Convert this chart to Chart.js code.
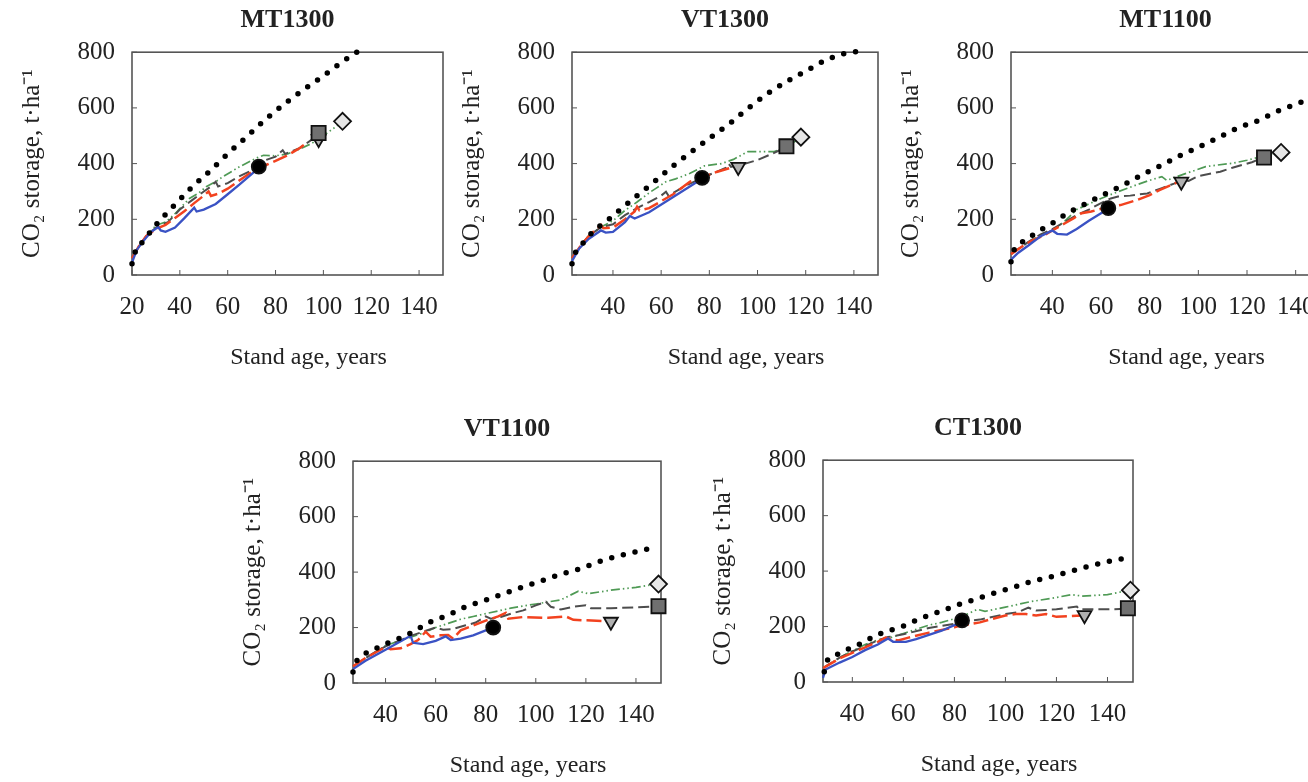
<!DOCTYPE html>
<html>
<head>
<meta charset="utf-8">
<script src="https://cdn.jsdelivr.net/npm/chart.js@4.4.1/dist/chart.umd.min.js"></script>
<style>
  body { margin: 0; width: 1308px; height: 782px; overflow: hidden; background: #fff; position: relative; }
  canvas { position: absolute; }
</style>
</head>
<body>
<canvas id="mt1300" width="446" height="370" style="left:17px;top:5px"></canvas>
<canvas id="vt1300" width="441" height="370" style="left:457px;top:5px"></canvas>
<canvas id="mt1100" width="444" height="370" style="left:896px;top:5px"></canvas>
<canvas id="vt1100" width="443" height="369" style="left:238px;top:414px"></canvas>
<canvas id="ct1300" width="445" height="369" style="left:708px;top:413px"></canvas>
<script>
const xTicks = [20, 40, 60, 80, 100, 120, 140];
const yTicks = [0, 200, 400, 600, 800];
const xTitle = 'Stand age, years';
const yTitle = 'CO₂ storage, t·ha⁻¹';

// MT1300
const mt1300Dotted = [[20,40],[21,75],[25,125],[30,180],[37,244],[45,315],[53,377],[60,435],[68,497],[76,560],[84,616],[92,667],[100,715],[108,766],[114,800]];
const mt1300Blue = [[20,45],[22,90],[25,125],[28,155],[31,172],[32,160],[34,155],[38,170],[42,205],[46,242],[47,228],[50,235],[55,255],[60,290],[65,325],[70,362],[73,385]];
const mt1300Red = [[20,60],[23,105],[26,140],[30,165],[34,180],[38,205],[42,230],[46,258],[50,285],[52,300],[53,284],[56,292],[60,310],[65,340],[70,370],[73,387],[76,395],[80,410],[85,430],[90,455],[93,475]];
const mt1300Gray = [[20,60],[23,105],[26,140],[30,170],[35,190],[40,235],[45,268],[50,300],[53,318],[55,335],[56,318],[60,330],[65,355],[70,375],[75,410],[80,425],[83,448],[84,435],[90,455],[95,485],[98,505]];
const mt1300Green = [[20,60],[23,105],[26,140],[30,178],[34,190],[38,220],[44,275],[48,295],[51,317],[55,335],[58,353],[65,389],[72,420],[75,430],[80,428],[85,435],[90,452],[95,472],[100,500],[104,525],[108,550]];
const mt1300Marks = [[73,389],[98,488],[98,510],[108,552]]; // circle, triangle, square, diamond

// VT1300
const vt1300Dotted = [[23,40],[24,72],[27,108],[30,140],[34,172],[38,198],[42,227],[50,285],[58,341],[65,392],[73,445],[81,497],[89,548],[96,598],[104,650],[112,694],[120,732],[127,766],[135,793],[141,802]];
const vt1300Blue = [[23,50],[26,95],[30,130],[35,160],[37,152],[40,155],[45,190],[47,212],[49,203],[55,225],[65,280],[75,335],[77,345]];
const vt1300Red = [[23,60],[27,110],[30,140],[35,180],[36,168],[40,170],[45,200],[49,228],[50,245],[51,232],[55,240],[60,265],[65,290],[72,335],[77,350],[83,370],[90,388]];
const vt1300Gray = [[23,60],[27,110],[30,140],[35,172],[40,182],[45,215],[50,240],[55,262],[60,285],[62,299],[63,285],[70,320],[80,360],[87,385],[88,400],[89,388],[95,400],[100,413],[106,435],[112,460]];
const vt1300Green = [[23,60],[27,110],[30,142],[35,172],[40,195],[45,232],[50,262],[55,295],[58,312],[62,335],[66,345],[72,365],[78,392],[85,400],[90,415],[96,443],[100,443],[107,443],[112,462],[118,492]];
const vt1300Marks = [[77,349],[92,388],[112,462],[118,495]];

// MT1100
const mt1100Dotted = [[23,48],[24,84],[27,114],[31,138],[35,161],[39,180],[46,221],[54,257],[62,293],[70,327],[78,365],[85,395],[93,431],[101,463],[109,497],[116,527],[125,556],[132,586],[140,613],[150,645]];
const mt1100Blue = [[23,55],[26,80],[30,105],[35,138],[40,160],[42,148],[46,145],[50,165],[55,195],[60,222],[63,238]];
const mt1100Red = [[23,75],[28,105],[32,125],[36,140],[40,160],[45,185],[49,205],[52,222],[56,228],[61,240],[63,245],[68,251],[75,270],[80,287],[84,305],[88,320],[92,335]];
const mt1100Gray = [[23,75],[30,118],[35,145],[40,165],[45,190],[50,215],[55,235],[60,258],[64,275],[67,282],[72,285],[79,293],[85,312],[90,328],[93,340],[96,338],[100,355],[109,371],[114,385],[118,395],[122,405],[127,422]];
const mt1100Green = [[23,75],[28,105],[32,128],[36,145],[40,160],[45,192],[50,235],[55,255],[60,275],[67,299],[75,325],[80,340],[85,353],[87,340],[95,365],[103,389],[108,395],[114,401],[120,412],[127,428],[134,440]];
const mt1100Marks = [[63,240],[93,335],[127,422],[134,440]];

// VT1100
const vt1100Dotted = [[27,40],[28,71],[31,101],[35,119],[39,137],[43,152],[47,167],[51,185],[58,221],[65,245],[72,275],[80,299],[88,325],[95,347],[103,371],[110,392],[118,413],[125,437],[133,458],[140,473],[148,491]];
const vt1100Blue = [[27,50],[32,80],[36,100],[40,120],[45,145],[50,170],[51,145],[55,140],[60,152],[64,168],[66,155],[70,160],[75,172],[80,190],[83,198]];
const vt1100Red = [[27,60],[32,90],[36,110],[40,130],[42,122],[46,125],[50,140],[53,155],[56,185],[58,167],[62,172],[65,173],[67,160],[70,190],[80,225],[85,240],[88,253],[89,232],[95,238],[105,235],[112,240],[115,228],[130,222]];
const vt1100Gray = [[27,60],[32,90],[36,112],[40,132],[45,150],[50,170],[55,185],[60,200],[63,192],[67,195],[72,208],[76,218],[80,240],[82,232],[86,238],[90,250],[95,262],[100,280],[104,293],[106,275],[110,265],[115,275],[120,280],[122,270],[130,270],[140,273],[149,277]];
const vt1100Green = [[27,60],[32,90],[36,112],[40,135],[45,150],[50,165],[55,180],[60,200],[65,215],[70,230],[75,240],[80,250],[85,260],[90,270],[100,285],[110,300],[117,331],[121,322],[130,335],[140,345],[148,357]];
const vt1100Marks = [[83,200],[130,221],[149,277],[149,357]];

// CT1300
const ct1300Dotted = [[29,37],[30,74],[33,94],[37,113],[41,130],[45,145],[48,163],[52,178],[60,202],[67,230],[74,253],[81,277],[88,298],[96,322],[103,341],[110,362],[118,380],[125,398],[132,416],[140,434],[148,448]];
const ct1300Blue = [[28.5,15],[29.5,45],[35,70],[40,90],[45,115],[50,135],[54,157],[56,145],[61,145],[65,155],[70,170],[75,185],[80,205],[83,212]];
const ct1300Red = [[28.5,50],[35,85],[40,105],[45,125],[50,145],[53,160],[55,155],[58,150],[62,160],[70,178],[75,188],[80,197],[83,205],[86,208],[90,215],[95,228],[100,240],[104,245],[108,245],[112,240],[116,245],[120,235],[125,238],[130,240]];
const ct1300Gray = [[28.5,50],[35,88],[40,110],[45,130],[50,150],[54,162],[60,172],[70,195],[80,210],[85,220],[90,225],[100,245],[105,252],[109,268],[112,258],[120,262],[128,272],[129,262],[140,262],[148,264]];
const ct1300Green = [[28.5,50],[35,88],[40,112],[45,135],[50,152],[55,160],[60,175],[65,190],[70,205],[75,215],[80,228],[85,245],[89,262],[92,255],[100,270],[110,290],[120,305],[126,315],[130,310],[140,315],[148,330]];
const ct1300Marks = [[83,222],[131,241],[148,266],[149,331]];

const serif = "'Liberation Serif', 'Times New Roman', serif";
Chart.defaults.font.family = serif;
Chart.defaults.color = '#222';

// frame round the plot, inward ticks and the x title
const frame = {
  id: 'frame',
  beforeDatasetsDraw(chart) {
    const { ctx, chartArea: a, scales: { x, y } } = chart;
    ctx.save();
    ctx.strokeStyle = '#555';
    ctx.lineWidth = 1.6;
    ctx.strokeRect(a.left, a.top, a.right - a.left, a.bottom - a.top);
    ctx.lineWidth = 1;
    ctx.beginPath();
    x.ticks.forEach(t => {
      const px = x.getPixelForValue(t.value);
      ctx.moveTo(px, a.bottom); ctx.lineTo(px, a.bottom - 5);
    });
    y.ticks.forEach(t => {
      const py = y.getPixelForValue(t.value);
      ctx.moveTo(a.left, py); ctx.lineTo(a.left + 5, py);
    });
    ctx.stroke();
    ctx.font = '24px ' + serif;
    ctx.fillStyle = '#222';
    ctx.textAlign = 'center';
    ctx.textBaseline = 'middle';
    ctx.fillText(xTitle, (a.left + a.right) / 2 + 21, a.bottom + 83);
    ctx.restore();
  }
};

function pts(arr) {
  return arr.map(p => ({ x: p[0], y: p[1] }));
}

function line(arr, color, width, dash, order) {
  return {
    data: pts(arr), showLine: true, borderColor: color, borderWidth: width,
    borderDash: dash, pointRadius: 0, tension: 0, order: order, clip: false
  };
}

function mark(p, style, fill, radius, rot, order) {
  return {
    data: pts([p]), showLine: false, pointStyle: style, pointRadius: radius,
    pointBackgroundColor: fill, pointBorderColor: '#111', pointBorderWidth: 1.8,
    pointRotation: rot, order: order, clip: false
  };
}

function makeChart(id, title, xMin, dotted, blue, red, gray, green, marks) {
  const dots = line(dotted, '#000', 5.5, [0, 12], 1);
  dots.borderCapStyle = 'round';
  dots.cubicInterpolationMode = 'monotone';
  new Chart(document.getElementById(id), {
    type: 'scatter',
    data: {
      datasets: [
        dots,
        line(blue, '#3a52c4', 2.3, [], 2),
        line(red, '#f2421f', 2.5, [15, 5], 3),
        line(gray, '#4d4d4d', 2, [11, 5], 4),
        line(green, '#4f9a55', 1.7, [9, 3, 1.5, 3, 1.5, 3], 5),
        mark(marks[0], 'circle', '#000', 7, 0, 0.3),
        mark(marks[1], 'triangle', '#b0b0b0', 8, 180, 0.2),
        mark(marks[2], 'rect', '#707070', 10, 0, 0.1),
        mark(marks[3], 'rectRot', '#e6e6e6', 8.5, 0, 0)
      ]
    },
    options: {
      responsive: false,
      animation: false,
      events: [],
      layout: { padding: { left: 0, right: 20, top: 0, bottom: 0 } },
      plugins: {
        legend: { display: false },
        tooltip: { enabled: false },
        title: {
          display: true, text: title, fullSize: false, color: '#222',
          font: { size: 26, weight: 'bold', family: serif },
          padding: { top: 0, bottom: 16 }
        }
      },
      scales: {
        x: {
          type: 'linear', min: xMin, max: 150,
          grid: { display: false, drawTicks: false },
          border: { display: false },
          ticks: { font: { size: 25 }, padding: 17, maxRotation: 0 },
          afterBuildTicks: s => { s.ticks = xTicks.filter(v => v >= s.min && v <= s.max).map(v => ({ value: v })); },
          afterFit: s => { s.height = 100; }
        },
        y: {
          type: 'linear', min: 0, max: 800,
          grid: { display: false, drawTicks: false },
          border: { display: false },
          ticks: { font: { size: 25 }, padding: 17 },
          afterBuildTicks: s => { s.ticks = yTicks.map(v => ({ value: v })); },
          afterFit: s => { s.width = 115; },
          title: { display: true, text: yTitle, font: { size: 25 }, padding: { top: 0, bottom: 0 } }
        }
      }
    },
    plugins: [frame]
  });
}

makeChart('mt1300', 'MT1300', 20, mt1300Dotted, mt1300Blue, mt1300Red, mt1300Gray, mt1300Green, mt1300Marks);
makeChart('vt1300', 'VT1300', 23, vt1300Dotted, vt1300Blue, vt1300Red, vt1300Gray, vt1300Green, vt1300Marks);
makeChart('mt1100', 'MT1100', 23, mt1100Dotted, mt1100Blue, mt1100Red, mt1100Gray, mt1100Green, mt1100Marks);
makeChart('vt1100', 'VT1100', 27, vt1100Dotted, vt1100Blue, vt1100Red, vt1100Gray, vt1100Green, vt1100Marks);
makeChart('ct1300', 'CT1300', 28.5, ct1300Dotted, ct1300Blue, ct1300Red, ct1300Gray, ct1300Green, ct1300Marks);
</script>
</body>
</html>
